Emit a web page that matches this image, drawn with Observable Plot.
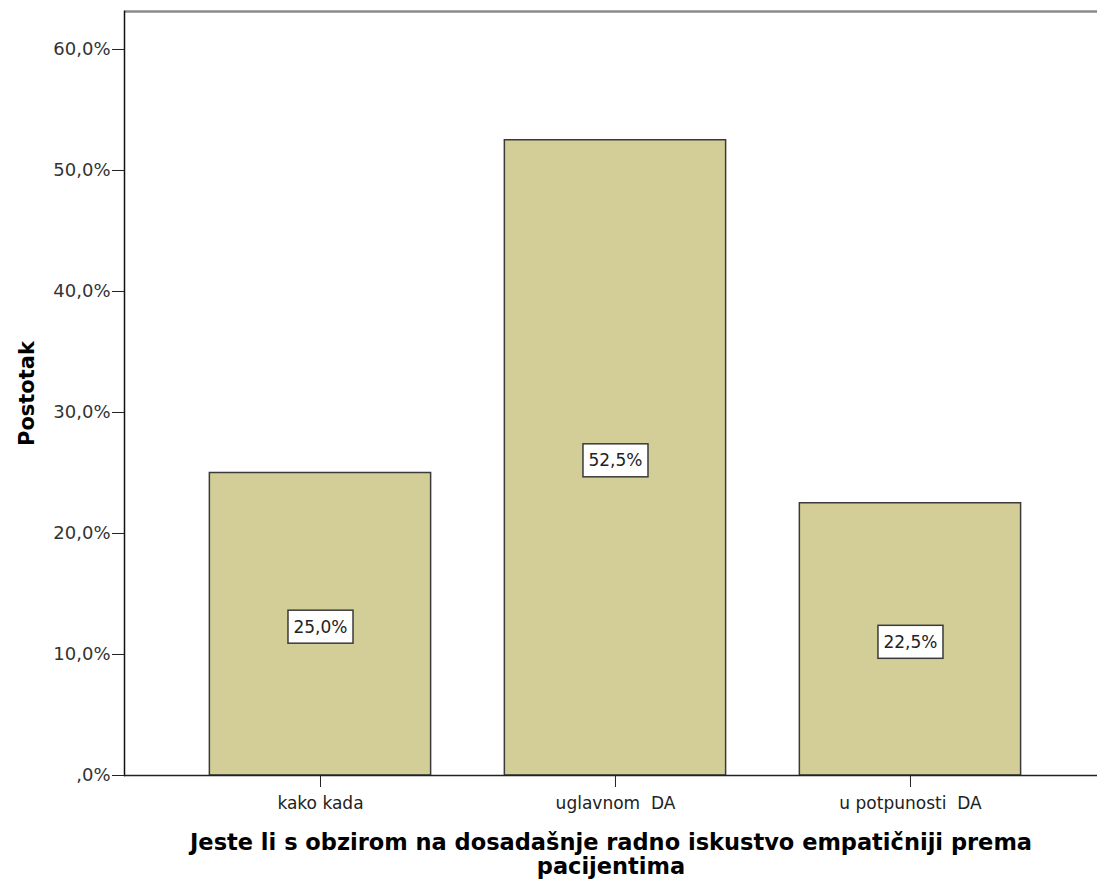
<!DOCTYPE html>
<html>
<head>
<meta charset="utf-8">
<script src="https://cdn.jsdelivr.net/npm/d3@7"></script>
<script src="https://cdn.jsdelivr.net/npm/@observablehq/plot@0.6"></script>
<style>
  html, body { margin: 0; padding: 0; background: #fff; }
  #chart svg { display: block; }
</style>
</head>
<body>
<div id="chart"></div>
<script>
const categories = ["kako kada", "uglavnom\u00a0\u00a0DA", "u potpunosti\u00a0\u00a0DA"];
const percents = [25.0, 52.5, 22.5];
const yTicks = [0, 10, 20, 30, 40, 50, 60];
const yLabel = "Postotak";
const xTitle = "Jeste li s obzirom na dosadašnje radno iskustvo empatičniji prema\npacijentima";

const data = categories.map((c, i) => ({i, category: c, value: percents[i]}));
const fmt = v => v === 0 ? ",0%" : v.toFixed(1).replace(".", ",") + "%";
const yMax = 63.14;
const halfBar = 0.375;

const plot = Plot.plot({
  width: 1097,
  height: 884,
  marginLeft: 124,
  marginRight: 0,
  marginTop: 11,
  marginBottom: 109,
  style: {fontFamily: "'DejaVu Sans', sans-serif", background: "#fff"},
  x: {type: "linear", domain: [-0.6644, 2.634], label: null},
  y: {domain: [0, yMax], label: null},
  marks: [
    Plot.rectY(data, {x1: d => d.i - halfBar, x2: d => d.i + halfBar, y: "value", fill: "#d3ce97", stroke: "#3a3a3a", strokeWidth: 1.5}),
    Plot.ruleY([yMax], {stroke: "#8a8a8a", strokeWidth: 2.5}),
    Plot.frame({anchor: "left", stroke: "#111", strokeWidth: 1.5}),
    Plot.ruleY([0], {stroke: "#222", strokeWidth: 1.5}),
    Plot.axisY({ticks: yTicks, tickFormat: fmt, tickSize: 12, tickPadding: 2, fontSize: 18, color: "#333", stroke: "#222",
      label: yLabel, labelAnchor: "center", labelArrow: "none", labelOffset: 105}),
    Plot.axisX({ticks: data.map(d => d.i), tickFormat: i => categories[i], tickSize: 12, tickPadding: 9, fontSize: 17, color: "#222", label: null}),
    Plot.text(data, {x: "i", y: d => d.value / 2, dy: 3, text: d => fmt(d.value), fontSize: 17, fill: "#222", className: "vlabel"}),
    Plot.text([xTitle], {frameAnchor: "bottom", dy: 57, fontSize: 22.5, fontWeight: "bold", fill: "#000", lineHeight: 1.07, lineAnchor: "top", text: d => d})
  ]
});
document.getElementById("chart").appendChild(plot);

// y axis title styling
plot.querySelectorAll("g[aria-label='y-axis label'] text").forEach(t => {
  t.setAttribute("font-weight", "bold");
  t.setAttribute("font-size", "21");
  t.setAttribute("fill", "#000");
});

// white boxes behind value labels
plot.querySelectorAll("g.vlabel text").forEach(t => {
  const b = t.getBBox();
  const r = document.createElementNS("http://www.w3.org/2000/svg", "rect");
  const padX = 5.5, padY = 7.5;
  r.setAttribute("x", b.x - padX);
  r.setAttribute("y", b.y - padY + 1);
  r.setAttribute("width", b.width + 2 * padX);
  r.setAttribute("height", b.height + 2 * padY - 2);
  r.setAttribute("fill", "#fff");
  r.setAttribute("stroke", "#3a3a3a");
  r.setAttribute("stroke-width", "1.5");
  const tr = t.getAttribute("transform");
  if (tr) r.setAttribute("transform", tr);
  t.parentNode.insertBefore(r, t);
});
</script>
</body>
</html>
